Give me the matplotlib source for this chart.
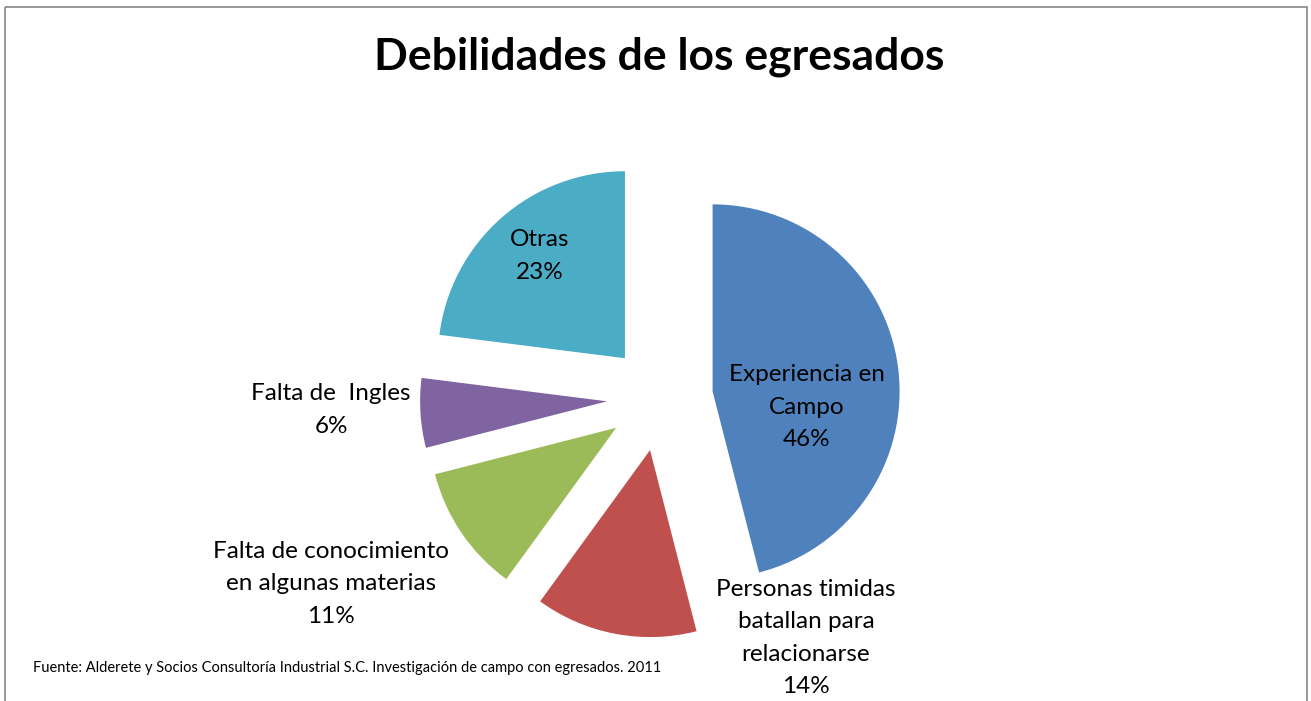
import matplotlib.pyplot as plt
from matplotlib.patches import Rectangle

plt.rcParams['font.family'] = ['Lato', 'DejaVu Sans']

categorias = ['Experiencia en\nCampo', 'Personas timidas\nbatallan para\nrelacionarse',
              'Falta de conocimiento\nen algunas materias', 'Falta de  Ingles', 'Otras']
porcentajes = [46, 14, 11, 6, 23]
colores = ['#4F81BD', '#C0504D', '#9BBB59', '#8064A2', '#4BACC6']

W, H = 1311, 701
fig = plt.figure(figsize=(W / 100, H / 100), dpi=100)
ax = fig.add_axes([0, 0, 1, 1])

# chart frame
ax.add_patch(Rectangle((5, 7), 1302, 720, fill=False, edgecolor='#868686', lw=1.2))

radio = 187
ax.pie(porcentajes, colors=colores, startangle=-90, counterclock=True,
       explode=[53] * len(porcentajes), radius=radio, center=(660, 398),
       wedgeprops=dict(linewidth=0), frame=True)
ax.set_xlim(0, W)
ax.set_ylim(H, 0)
ax.set_aspect('equal')
ax.axis('off')

# label positions (pixels)
pos = [(807, 407), (806, 638), (331, 584), (331, 410), (540, 256)]
for (x, y), cat, p in zip(pos, categorias, porcentajes):
    ax.text(x, y, f'{cat}\n{p}%', ha='center', va='center', fontsize=17.5,
            linespacing=1.65, color='black')

ax.text(659, 57, 'Debilidades de los egresados', ha='center', va='center',
        fontsize=32, fontweight='bold')
ax.text(33, 668, 'Fuente: Alderete y Socios Consultoría Industrial S.C. Investigación de campo con egresados. 2011',
        ha='left', va='center', fontsize=10.5)

fig.savefig('out.png', dpi=100)
